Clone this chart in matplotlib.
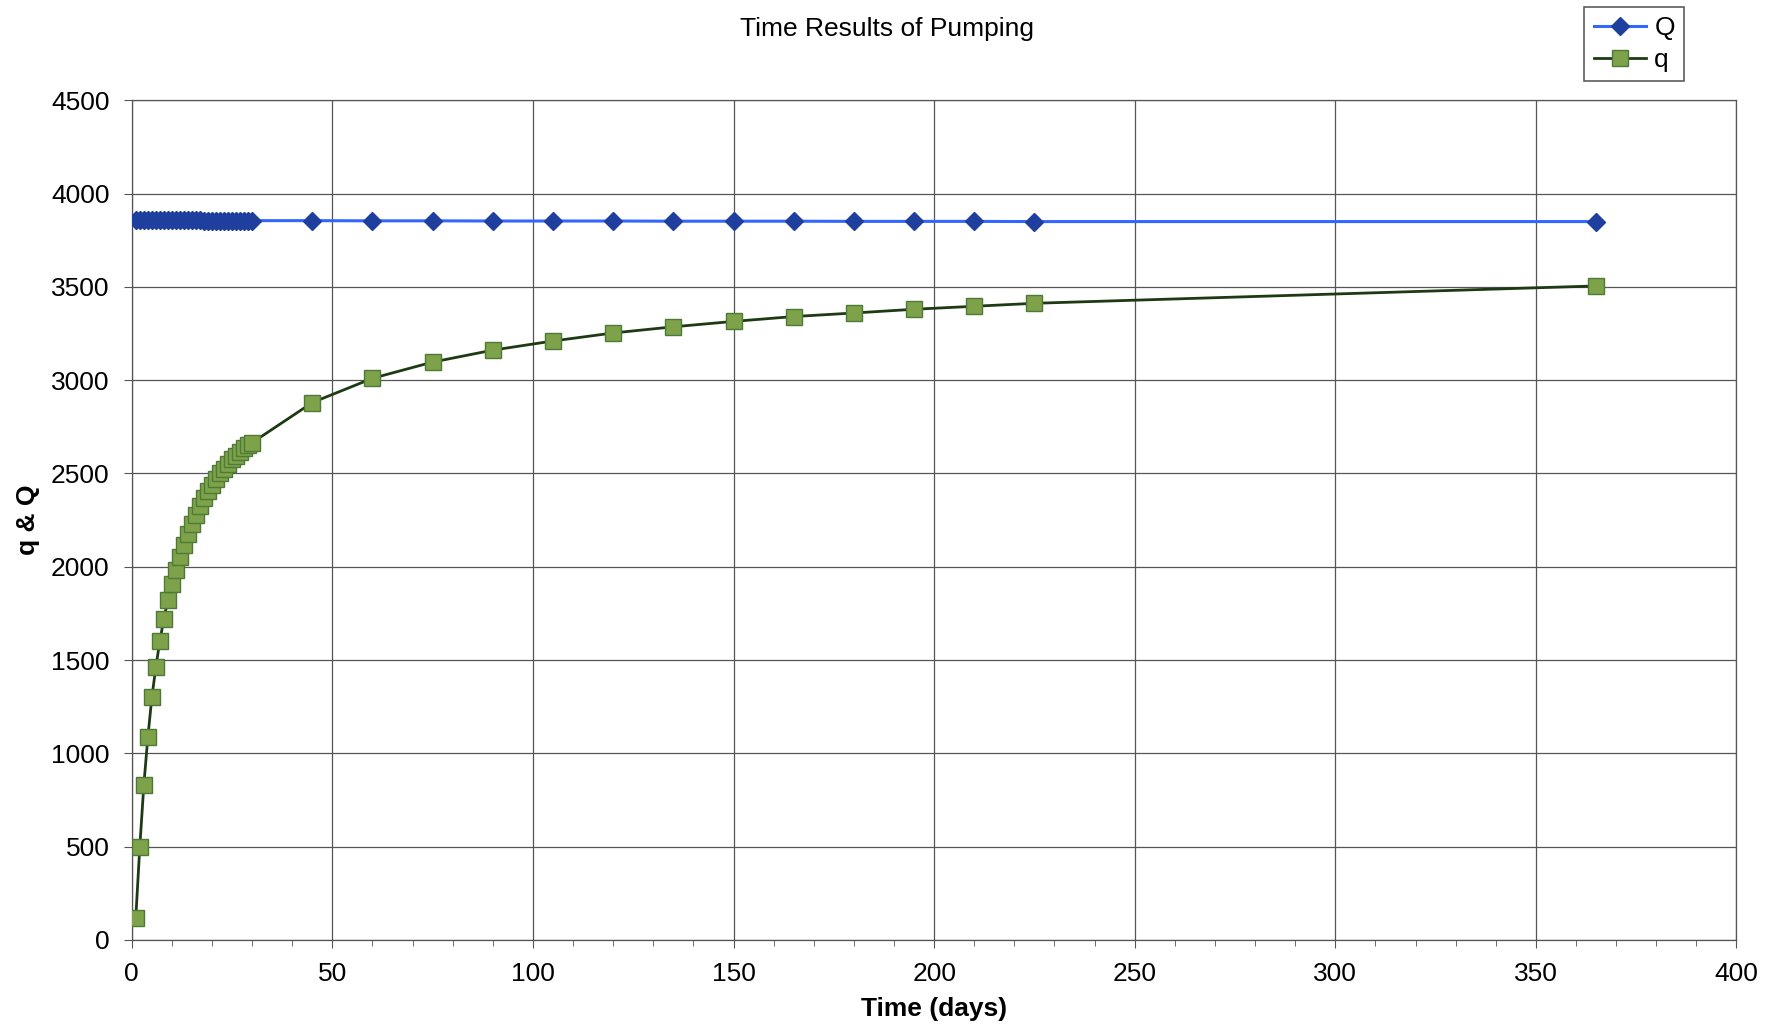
import matplotlib
matplotlib.use("Agg")
import matplotlib.pyplot as plt
from matplotlib.ticker import MultipleLocator

plt.rcParams['font.family'] = ['Liberation Sans', 'DejaVu Sans']

# time (days)
days = list(range(1, 31)) + [45, 60, 75, 90, 105, 120, 135, 150, 165, 180, 195, 210, 225, 365]

# total pumping Q
Q = [3856, 3856, 3856, 3856, 3856, 3856, 3856, 3856, 3856, 3856,
     3856, 3856, 3856, 3856, 3856, 3856, 3856, 3855, 3855, 3855,
     3855, 3855, 3855, 3855, 3855, 3855, 3855, 3855, 3855, 3855,
     3855, 3854, 3854, 3853, 3853, 3853, 3852, 3852, 3852, 3851, 3851, 3851, 3850, 3850]

# q
q = [120, 500, 830, 1086, 1300, 1462, 1604, 1720, 1823, 1910,
     1985, 2050, 2115, 2175, 2230, 2280, 2325, 2370, 2405, 2440,
     2470, 2500, 2525, 2550, 2575, 2595, 2615, 2635, 2650, 2665,
     2880, 3010, 3097, 3161, 3210, 3253, 3286, 3315, 3341, 3360, 3380, 3396, 3412, 3505]

fig = plt.figure(figsize=(17.81, 10.34), dpi=100)
ax = fig.add_axes([0.074, 0.091, 0.901, 0.812])

lQ, = ax.plot(days, Q, color='#3366FF', lw=2.2, marker='D', markersize=9,
              markerfacecolor='#1F3F9F', markeredgecolor='#1F3F9F', zorder=3)
lq, = ax.plot(days, q, color='#1E3A14', lw=2, marker='s', markersize=11.5,
              markerfacecolor='#7DA24A', markeredgecolor='#4E7A36', zorder=3)

ax.set_xlim(0, 400)
ax.set_ylim(0, 4500)
ax.xaxis.set_major_locator(MultipleLocator(50))
ax.xaxis.set_minor_locator(MultipleLocator(10))
ax.yaxis.set_major_locator(MultipleLocator(500))
ax.grid(True, which='major', color='#555555', lw=0.9)
ax.set_axisbelow(True)
for s in ax.spines.values():
    s.set_color('#555555')
    s.set_linewidth(0.9)

ax.tick_params(axis='both', which='major', labelsize=19, length=6, color='#555555', pad=10)
ax.tick_params(axis='x', which='minor', length=4, color='#555555')

ax.set_xlabel('Time (days)', fontsize=19, fontweight='bold', labelpad=8)
ax.set_ylabel('q & Q', fontsize=19, fontweight='bold', labelpad=8)
fig.text(0.498, 0.972, 'Time Results of Pumping', fontsize=19, ha='center', va='center')

leg = fig.legend([lQ, lq], ['Q', 'q'], loc='upper right', bbox_to_anchor=(0.953, 1.006),
                 fontsize=19, frameon=True, fancybox=False, edgecolor='#333333',
                 handlelength=2.0, handletextpad=0.3, borderpad=0.35, labelspacing=0.3)
leg.get_frame().set_linewidth(1.2)

fig.savefig('out.png', dpi=100)
